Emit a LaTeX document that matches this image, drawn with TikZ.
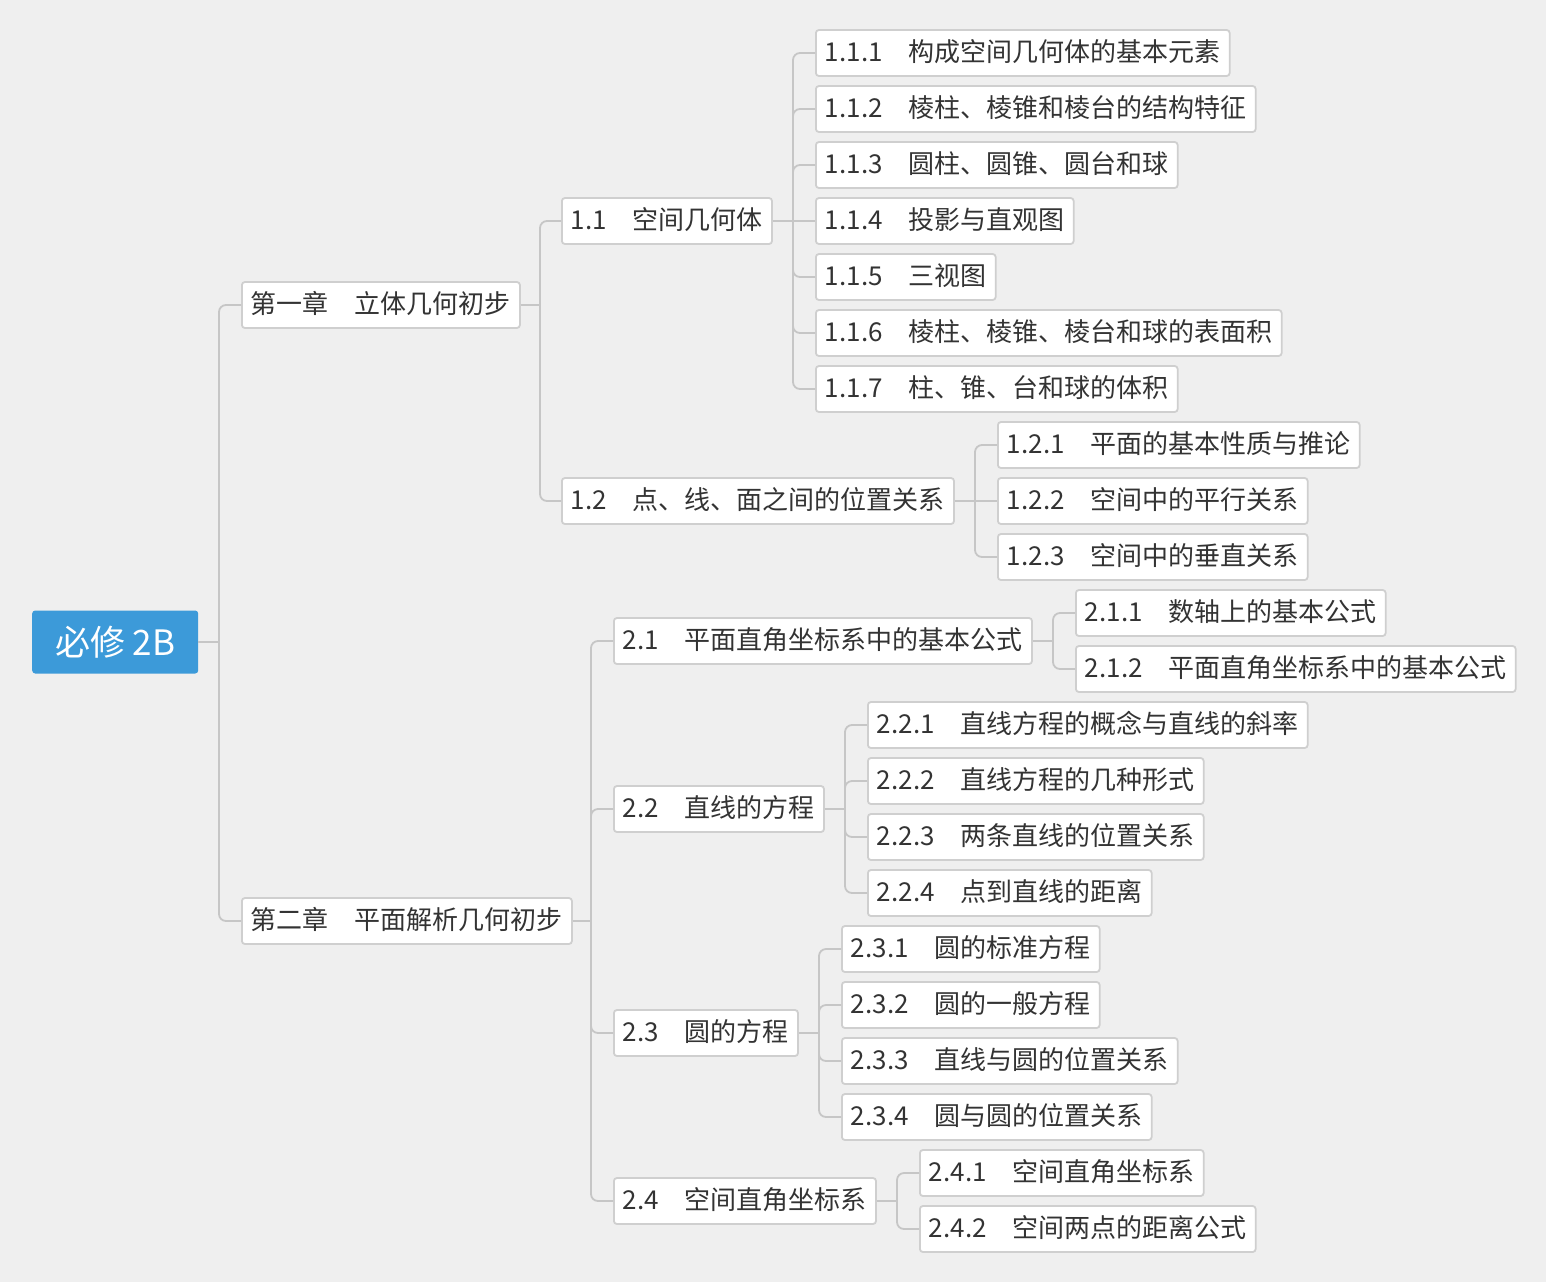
\documentclass[tikz,border=0pt]{standalone}
\usepackage{fontspec}
\setmainfont{Noto Sans CJK SC}
\definecolor{bggray}{HTML}{EFEFEF}
\definecolor{rootblue}{HTML}{3C9AD9}
\definecolor{boxgray}{HTML}{CFCFCF}
\definecolor{linegray}{HTML}{C6C6C6}
\definecolor{textgray}{HTML}{333333}
\begin{document}
\begin{tikzpicture}[x=1pt,y=-1pt,
  topic/.style={draw=boxgray,line width=1.8pt,fill=white,rounded corners=3pt,anchor=west,
    font=\fontsize{26}{30}\selectfont,text=textgray,minimum height=46pt,
    inner xsep=9pt,inner ysep=0pt,text height=21pt,text depth=5pt},
  root/.style={fill=rootblue,rounded corners=3pt,anchor=west,
    font=\fontsize{35}{40}\selectfont,text=white,minimum height=63pt,minimum width=166pt},
  link/.style={draw=linegray,line width=1.8pt},
  branch/.style={link,rounded corners=7pt}]
\fill[bggray] (0,0) rectangle (1546,1282);

\node[root] (root) at (32,642) {必修 2B};
\node[topic] (c1) at (241,305) {第一章　立体几何初步};
\node[topic] (c2) at (241,921) {第二章　平面解析几何初步};

\node[topic] (s11) at (561,221) {1.1　空间几何体};
\node[topic] (s12) at (561,501) {1.2　点、线、面之间的位置关系};
\node[topic] (t111) at (815,53) {1.1.1　构成空间几何体的基本元素};
\node[topic] (t112) at (815,109) {1.1.2　棱柱、棱锥和棱台的结构特征};
\node[topic] (t113) at (815,165) {1.1.3　圆柱、圆锥、圆台和球};
\node[topic] (t114) at (815,221) {1.1.4　投影与直观图};
\node[topic] (t115) at (815,277) {1.1.5　三视图};
\node[topic] (t116) at (815,333) {1.1.6　棱柱、棱锥、棱台和球的表面积};
\node[topic] (t117) at (815,389) {1.1.7　柱、锥、台和球的体积};
\node[topic] (t121) at (997,445) {1.2.1　平面的基本性质与推论};
\node[topic] (t122) at (997,501) {1.2.2　空间中的平行关系};
\node[topic] (t123) at (997,557) {1.2.3　空间中的垂直关系};

\node[topic] (s21) at (613,641) {2.1　平面直角坐标系中的基本公式};
\node[topic] (t211) at (1075,613) {2.1.1　数轴上的基本公式};
\node[topic] (t212) at (1075,669) {2.1.2　平面直角坐标系中的基本公式};
\node[topic] (s22) at (613,809) {2.2　直线的方程};
\node[topic] (t221) at (867,725) {2.2.1　直线方程的概念与直线的斜率};
\node[topic] (t222) at (867,781) {2.2.2　直线方程的几种形式};
\node[topic] (t223) at (867,837) {2.2.3　两条直线的位置关系};
\node[topic] (t224) at (867,893) {2.2.4　点到直线的距离};
\node[topic] (s23) at (613,1033) {2.3　圆的方程};
\node[topic] (t231) at (841,949) {2.3.1　圆的标准方程};
\node[topic] (t232) at (841,1005) {2.3.2　圆的一般方程};
\node[topic] (t233) at (841,1061) {2.3.3　直线与圆的位置关系};
\node[topic] (t234) at (841,1117) {2.3.4　圆与圆的位置关系};
\node[topic] (s24) at (613,1201) {2.4　空间直角坐标系};
\node[topic] (t241) at (919,1173) {2.4.1　空间直角坐标系};
\node[topic] (t242) at (919,1229) {2.4.2　空间两点的距离公式};

% junctions
\coordinate (jroot) at (219,642);
\coordinate (jc1) at (540,305);
\coordinate (jc2) at (591,921);
\coordinate (j11) at (793,221);
\coordinate (j12) at (975,501);
\coordinate (j21) at (1053,641);
\coordinate (j22) at (845,809);
\coordinate (j23) at (819,1033);
\coordinate (j24) at (897,1201);

\path[link] (root) -- (jroot);
\path[branch] (jroot) |- (c1.west);
\path[branch] (jroot) |- (c2.west);

\path[link] (c1) -- (jc1);
\path[branch] (jc1) |- (s11.west);
\path[branch] (jc1) |- (s12.west);

\path[link] (s11) -- (j11);
\path[branch] (j11) |- (t111.west);
\path[branch] (j11) |- (t112.west);
\path[branch] (j11) |- (t113.west);
\path[link] (j11) -- (t114.west);
\path[branch] (j11) |- (t115.west);
\path[branch] (j11) |- (t116.west);
\path[branch] (j11) |- (t117.west);

\path[link] (s12) -- (j12);
\path[branch] (j12) |- (t121.west);
\path[link] (j12) -- (t122.west);
\path[branch] (j12) |- (t123.west);

\path[link] (c2) -- (jc2);
\path[branch] (jc2) |- (s21.west);
\path[branch] (jc2) |- (s22.west);
\path[branch] (jc2) |- (s23.west);
\path[branch] (jc2) |- (s24.west);

\path[link] (s21) -- (j21);
\path[branch] (j21) |- (t211.west);
\path[branch] (j21) |- (t212.west);

\path[link] (s22) -- (j22);
\path[branch] (j22) |- (t221.west);
\path[branch] (j22) |- (t222.west);
\path[branch] (j22) |- (t223.west);
\path[branch] (j22) |- (t224.west);

\path[link] (s23) -- (j23);
\path[branch] (j23) |- (t231.west);
\path[branch] (j23) |- (t232.west);
\path[branch] (j23) |- (t233.west);
\path[branch] (j23) |- (t234.west);

\path[link] (s24) -- (j24);
\path[branch] (j24) |- (t241.west);
\path[branch] (j24) |- (t242.west);
\end{tikzpicture}
\end{document}
